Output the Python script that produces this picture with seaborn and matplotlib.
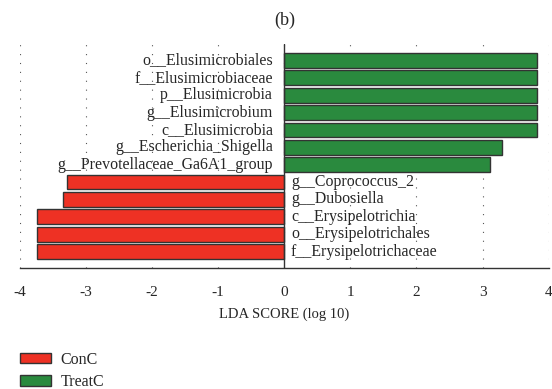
import matplotlib
matplotlib.use("Agg")
import matplotlib.pyplot as plt
import seaborn as sns
import pandas as pd
from matplotlib.patches import Patch

taxa = ["o__Elusimicrobiales", "f__Elusimicrobiaceae", "p__Elusimicrobia",
        "g__Elusimicrobium", "c__Elusimicrobia", "g__Escherichia_Shigella",
        "g__Prevotellaceae_Ga6A1_group", "g__Coprococcus_2", "g__Dubosiella",
        "c__Erysipelotrichia", "o__Erysipelotrichales", "f__Erysipelotrichaceae"]
lda = [3.82, 3.82, 3.82, 3.82, 3.82, 3.29, 3.11, -3.28, -3.35, -3.74, -3.74, -3.74]
groups = ["TreatC"] * 7 + ["ConC"] * 5
colors = {"ConC": "#EE3124", "TreatC": "#2A8A3E"}
xticks = [-4, -3, -2, -1, 0, 1, 2, 3, 4]

df = pd.DataFrame({"taxon": taxa, "lda": lda, "group": groups})

sns.set_style("white")
plt.rcParams["font.family"] = ["Liberation Serif", "DejaVu Serif"]

fig = plt.figure(figsize=(5.52, 3.89), dpi=100)
ax = fig.add_axes([0.036, 0.311, 0.958, 0.576])

sns.barplot(data=df, x="lda", y="taxon", hue="group", palette=colors,
            saturation=1, dodge=False, orient="h", width=0.85,
            edgecolor="#333333", linewidth=1.0, legend=False, ax=ax, zorder=3)

ax.set_xlim(-4, 4)
ax.set_ylim(11.95, -0.95)
ax.set_xticks(xticks)
ax.set_xticklabels([str(t) for t in xticks], fontsize=11)
ax.set_yticks([])
ax.set_ylabel("")
ax.set_xlabel("LDA SCORE (log 10)", fontsize=10.5, labelpad=6)
ax.xaxis.grid(True, linestyle=(0, (1, 7)), color="#555555", linewidth=0.8, zorder=0)
ax.set_axisbelow(True)
for s in ["top", "right", "left"]:
    ax.spines[s].set_visible(False)
ax.spines["bottom"].set_color("#333333")
ax.spines["bottom"].set_linewidth(1.0)
ax.tick_params(axis="x", direction="in", length=3, color="#333333", pad=13)
ax.axvline(0, color="#333333", linewidth=1.0, zorder=4)

for i, (t, v) in enumerate(zip(taxa, lda)):
    if v > 0:
        ax.text(-0.17, i, t, ha="right", va="center", fontsize=11.4, zorder=5)
    else:
        ax.text(0.1, i, t, ha="left", va="center", fontsize=11.4, zorder=5)

fig.text(0.516, 0.948, "(b)", ha="center", va="center", fontsize=13)

handles = [Patch(facecolor=colors["ConC"], edgecolor="#333333", label="ConC"),
           Patch(facecolor=colors["TreatC"], edgecolor="#333333", label="TreatC")]
fig.legend(handles=handles, loc="lower left", bbox_to_anchor=(0.011, -0.04),
           frameon=False, fontsize=11.5, handlelength=1.9, handleheight=0.6,
           labelspacing=0.4, handletextpad=0.6)

fig.savefig("out.png", dpi=100)
